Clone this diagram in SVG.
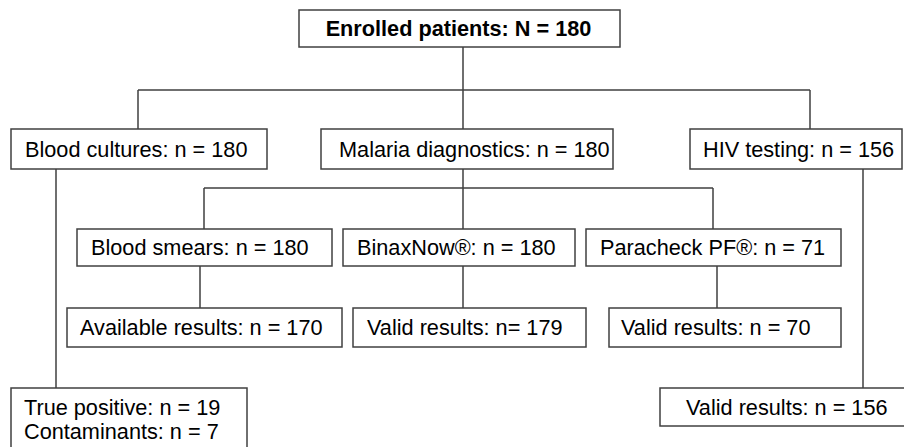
<svg xmlns="http://www.w3.org/2000/svg" width="904" height="447" viewBox="0 0 904 447">
<style>
.box{fill:#fff;stroke:#404040;stroke-width:1.5}
.t{font-family:"Liberation Sans",Arial,sans-serif;font-size:21.7px;fill:#000}
.b{font-weight:bold}
.c{fill:none;stroke:#404040;stroke-width:1.5}
</style>
<rect width="904" height="447" fill="#fff"/>
<g id="connectors">
<path class="c" d="M463 47V90M138 90H810M138 90V129M463 90V129M810 90V129"/>
<path class="c" d="M463 169V188M204 188H713M204 188V229M463 188V229M713 188V229"/>
<path class="c" d="M200 266V308M463 266V308M717 266V308"/>
<path class="c" d="M56 169V388M863 169V388"/>
</g>
<g id="enrolled"><rect class="box" x="299" y="10" width="321" height="37"/><text class="t b" x="458.5" y="36" text-anchor="middle">Enrolled patients: N = 180</text></g>
<g id="blood-cultures"><rect class="box" x="11" y="129" width="256" height="40"/><text class="t" x="25" y="157">Blood cultures: n = 180</text></g>
<g id="malaria"><rect class="box" x="321" y="129" width="292" height="40"/><text class="t" x="339" y="157">Malaria diagnostics: n = 180</text></g>
<g id="hiv"><rect class="box" x="690" y="129" width="212" height="40"/><text class="t" x="703" y="157">HIV testing: n = 156</text></g>
<g id="blood-smears"><rect class="box" x="77" y="229" width="255" height="37"/><text class="t" x="91" y="255">Blood smears: n = 180</text></g>
<g id="binaxnow"><rect class="box" x="343" y="229" width="232" height="37"/><text class="t" x="357" y="255">BinaxNow®: n = 180</text></g>
<g id="paracheck"><rect class="box" x="586" y="229" width="255" height="37"/><text class="t" x="600" y="255">Paracheck PF®: n = 71</text></g>
<g id="available"><rect class="box" x="67" y="308" width="275" height="39"/><text class="t" x="80" y="335">Available results: n = 170</text></g>
<g id="valid-179"><rect class="box" x="353" y="308" width="233" height="39"/><text class="t" x="367" y="335">Valid results: n= 179</text></g>
<g id="valid-70"><rect class="box" x="609" y="308" width="232" height="39"/><text class="t" x="621" y="335">Valid results: n = 70</text></g>
<g id="true-positive"><rect class="box" x="11" y="388" width="236" height="70"/><text class="t" x="24" y="415">True positive: n = 19</text><text class="t" x="24" y="439">Contaminants: n = 7</text></g>
<g id="valid-156"><rect class="box" x="660" y="388" width="250" height="38"/><text class="t" x="686" y="415">Valid results: n = 156</text></g>
</svg>
